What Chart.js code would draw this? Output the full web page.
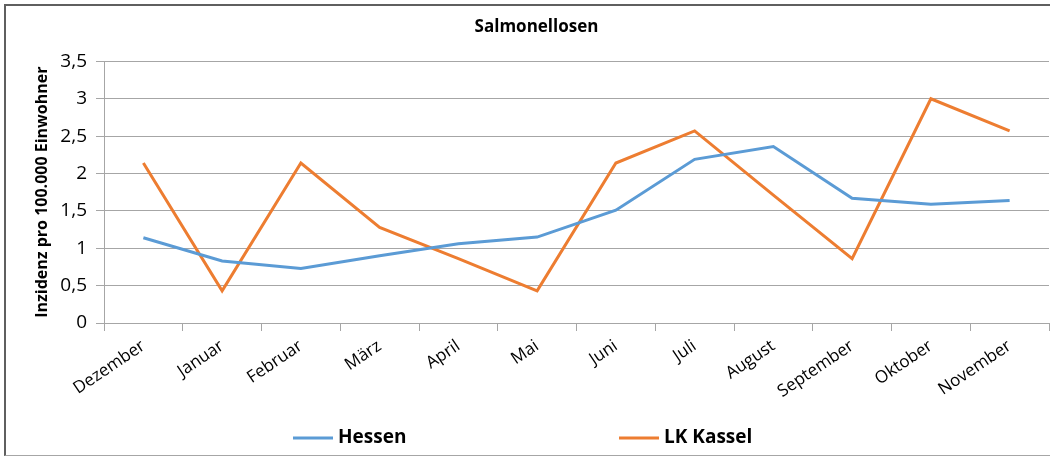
<!DOCTYPE html>
<html lang="de">
<head>
<meta charset="utf-8">
<title>Salmonellosen</title>
<script src="https://cdn.jsdelivr.net/npm/chart.js@4"></script>
<style>
  html, body { margin: 0; padding: 0; background: #fff; }
  #wrap { position: relative; width: 1050px; height: 459px; }
  #rahmen {
    position: absolute; left: 4px; top: 4px; width: 1050px; height: 452px;
    border-top: 2px solid #5f5f5f; border-left: 2px solid #5f5f5f;
    border-bottom: 1px solid #a6a6a6; pointer-events: none; box-sizing: border-box;
  }
</style>
</head>
<body>
<div id="wrap">
  <canvas id="grafik" width="1050" height="459"></canvas>
  <div id="rahmen"></div>
</div>
<script>
// Daten (Inzidenz pro 100.000 Einwohner)
const monate = ['Dezember', 'Januar', 'Februar', 'März', 'April', 'Mai', 'Juni', 'Juli', 'August', 'September', 'Oktober', 'November'];
const hessen = [1.14, 0.83, 0.73, 0.90, 1.06, 1.15, 1.51, 2.19, 2.36, 1.67, 1.59, 1.64];
const lkKassel = [2.14, 0.43, 2.14, 1.28, 0.86, 0.43, 2.14, 2.57, 1.71, 0.86, 3.00, 2.57];
const yTicks = [0, 0.5, 1, 1.5, 2, 2.5, 3, 3.5];

const schrift = "'Open Sans', 'DejaVu Sans', sans-serif";
const grau = '#a6a6a6';

// Legende wie in Excel: Linie + fetter Text, weit auseinander
const legendePlugin = {
  id: 'excelLegende',
  afterDraw(chart) {
    const ctx = chart.ctx;
    const a = chart.chartArea;
    const anteile = [0.2, 0.545];
    const y = chart.height - 21;
    ctx.save();
    ctx.font = 'bold 19px ' + schrift;
    ctx.textBaseline = 'middle';
    ctx.fillStyle = '#000';
    chart.data.datasets.forEach((ds, i) => {
      const x = a.left + a.width * anteile[i];
      ctx.strokeStyle = ds.borderColor;
      ctx.lineWidth = 3;
      ctx.beginPath();
      ctx.moveTo(x, y);
      ctx.lineTo(x + 40, y);
      ctx.stroke();
      ctx.fillText(ds.label, x + 45, y);
    });
    ctx.restore();
  }
};

const ctx = document.getElementById('grafik').getContext('2d');
new Chart(ctx, {
  type: 'line',
  data: {
    labels: monate,
    datasets: [
      { label: 'Hessen', data: hessen, borderColor: '#5b9bd5', backgroundColor: '#5b9bd5', borderWidth: 3, pointRadius: 0, tension: 0 },
      { label: 'LK Kassel', data: lkKassel, borderColor: '#ed7d31', backgroundColor: '#ed7d31', borderWidth: 3, pointRadius: 0, tension: 0 }
    ]
  },
  options: {
    responsive: false,
    animation: false,
    layout: { padding: { left: 24, right: 1, top: 0, bottom: 0 } },
    plugins: {
      legend: { display: false },
      tooltip: { enabled: false },
      title: {
        display: true,
        text: 'Salmonellosen',
        color: '#000',
        font: { family: schrift, size: 17, weight: 'bold' },
        padding: { top: 17, bottom: 24 }
      }
    },
    scales: {
      x: {
        offset: true,
        grid: { offset: true, drawOnChartArea: false, drawTicks: true, tickLength: 8, color: grau },
        border: { color: grau },
        ticks: {
          color: '#000',
          font: { family: schrift, size: 17 },
          minRotation: 34, maxRotation: 34, autoSkip: false, padding: 5
        },
        afterFit(s) { s.height = 136; }
      },
      y: {
        min: 0, max: 3.5,
        afterBuildTicks(s) { s.ticks = yTicks.map(v => ({ value: v })); },
        grid: { color: grau, tickLength: 8 },
        border: { color: grau },
        ticks: {
          color: '#000',
          font: { family: schrift, size: 19 },
          padding: 9,
          callback: v => v.toString().replace('.', ',')
        },
        title: {
          display: true,
          text: 'Inzidenz pro 100.000 Einwohner',
          color: '#000',
          font: { family: schrift, size: 16, weight: 'bold' },
          padding: { top: 9, bottom: 0 }
        },
        afterFit(s) { s.width = 80; }
      }
    }
  },
  plugins: [legendePlugin]
});
</script>
</body>
</html>
